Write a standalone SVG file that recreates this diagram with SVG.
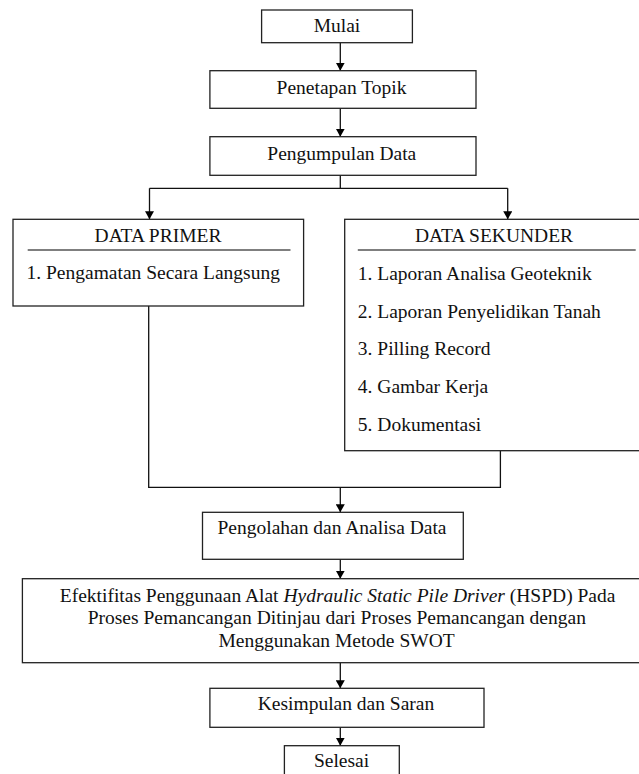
<svg xmlns="http://www.w3.org/2000/svg" width="639" height="774" viewBox="0 0 639 774">
<defs>
<marker id="ah" markerWidth="8" markerHeight="9" refX="8" refY="4.5" orient="auto" markerUnits="userSpaceOnUse">
<path d="M0,0 L8,4.5 L0,9 Z" fill="#000"/>
</marker>
<style>
.box{fill:#fff;stroke:#222;stroke-width:1.3}
.sep{stroke:#555;stroke-width:1.3}
.ln{fill:none;stroke:#111;stroke-width:1.3}
.t{font-size:19.5px;fill:#111}
.c{text-anchor:middle}
</style>
</defs>
<rect width="639" height="774" fill="#fff"/>
<g id="connectors">
<path class="ln" d="M340.3,42.7 V70.7" marker-end="url(#ah)"/>
<path class="ln" d="M340.3,108.3 V136.7" marker-end="url(#ah)"/>
<path class="ln" d="M340.3,175.3 V188.3 M149.5,188.3 H507.7"/>
<path class="ln" d="M149.5,188.3 V219.3" marker-end="url(#ah)"/>
<path class="ln" d="M507.7,188.3 V219.3" marker-end="url(#ah)"/>
<path class="ln" d="M148.7,306 V487.3 H500.4 V450.7"/>
<path class="ln" d="M340.3,487.3 V512.3" marker-end="url(#ah)"/>
<path class="ln" d="M340.3,559.3 V578.7" marker-end="url(#ah)"/>
<path class="ln" d="M340.3,662.7 V688.3" marker-end="url(#ah)"/>
<path class="ln" d="M340.3,727.3 V745.7" marker-end="url(#ah)"/>
</g>
<g font-family="'Liberation Serif', 'Times New Roman', 'DejaVu Serif', serif">
<g id="mulai">
<rect class="box" x="261.6" y="10" width="150.8" height="32.7"/>
<text class="t c" x="337" y="32">Mulai</text>
</g>
<g id="penetapan">
<rect class="box" x="209.9" y="70.7" width="266.1" height="37.6"/>
<text class="t c" x="341.5" y="93.5">Penetapan Topik</text>
</g>
<g id="pengumpulan">
<rect class="box" x="209.9" y="136.7" width="266.1" height="38.6"/>
<text class="t c" x="341.8" y="160">Pengumpulan Data</text>
</g>
<g id="primer">
<rect class="box" x="13" y="219.3" width="290.6" height="86.7"/>
<text class="t c" x="158" y="241.7">DATA PRIMER</text>
<line class="sep" x1="27.7" y1="250" x2="290.5" y2="250"/>
<text class="t" x="26.5" y="279.3">1. Pengamatan Secara Langsung</text>
</g>
<g id="sekunder">
<rect class="box" x="344.7" y="219.3" width="300" height="231.4"/>
<text class="t c" x="494" y="241.7">DATA SEKUNDER</text>
<line class="sep" x1="357.8" y1="250" x2="635.7" y2="250"/>
<text class="t" x="357.8" y="280">1. Laporan Analisa Geoteknik</text>
<text class="t" x="357.8" y="317.5">2. Laporan Penyelidikan Tanah</text>
<text class="t" x="357.8" y="355">3. Pilling Record</text>
<text class="t" x="357.8" y="393">4. Gambar Kerja</text>
<text class="t" x="357.8" y="430.7">5. Dokumentasi</text>
</g>
<g id="pengolahan">
<rect class="box" x="202.5" y="512.3" width="260.8" height="47"/>
<text class="t c" x="332" y="534">Pengolahan dan Analisa Data</text>
</g>
<g id="efektifitas">
<rect class="box" x="22.4" y="578.7" width="630" height="84"/>
<text class="t c" x="337.6" y="601.7">Efektifitas Penggunaan Alat <tspan font-style="italic">Hydraulic Static Pile Driver</tspan> (HSPD) Pada</text>
<text class="t c" x="336.8" y="624">Proses Pemancangan Ditinjau dari Proses Pemancangan dengan</text>
<text class="t c" x="336.6" y="646.7">Menggunakan Metode SWOT</text>
</g>
<g id="kesimpulan">
<rect class="box" x="209.9" y="688.3" width="274.1" height="39"/>
<text class="t c" x="346" y="710">Kesimpulan dan Saran</text>
</g>
<g id="selesai">
<rect class="box" x="284.4" y="745.7" width="114.9" height="40"/>
<text class="t c" x="341.5" y="767.3">Selesai</text>
</g>
</g>
</svg>
